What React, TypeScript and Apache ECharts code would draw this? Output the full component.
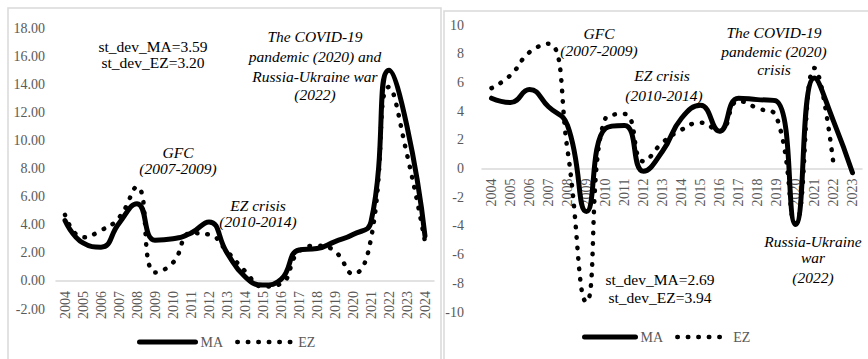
import React, { useEffect, useRef } from 'react';
import * as echarts from 'echarts';

// Left panel (2004-2024)
const yearsLeft = ['2004','2005','2006','2007','2008','2009','2010','2011','2012','2013','2014','2015','2016','2017','2018','2019','2020','2021','2022','2023','2024'];
const maLeft = [4.3, 2.7, 2.4, 4.1, 5.5, 2.9, 3.0, 3.4, 4.2, 2.0, 0.3, -0.3, 0.1, 2.2, 2.3, 2.8, 3.3, 4.2, 15.0, 11.0, 3.2];
const ezLeft = [4.7, 3.1, 3.6, 4.5, 6.7, 0.6, 1.3, 3.4, 3.3, 2.1, 0.7, -0.4, -0.2, 2.1, 2.5, 2.1, 0.5, 3.0, 13.8, 9.0, 2.8];
const yTicksLeft = { min: -2, max: 18, interval: 2 };

// Right panel (2004-2023)
const yearsRight = ['2004','2005','2006','2007','2008','2009','2010','2011','2012','2013','2014','2015','2016','2017','2018','2019','2020','2021','2022','2023'];
const maRight = [4.9, 4.6, 5.5, 4.3, 3.0, -3.0, 2.8, 3.0, -0.2, 1.2, 3.5, 4.4, 2.6, 4.9, 4.8, 4.7, -3.9, 6.3, 3.3, -0.3];
const ezRight = [5.6, 6.5, 8.1, 8.7, 1.3, -9.3, 3.5, 3.8, 0.5, 1.8, 2.7, 3.2, 2.6, 4.7, 4.2, 3.6, -3.8, 7.0, 0.3, null];
const yTicksRight = { min: -10, max: 10, interval: 2 };

const SERIF = 'Liberation Serif, DejaVu Serif, serif';
const GRAY = '#595959';
const AXIS_LINE = '#d9d9d9';

const solidStyle = { color: '#000', width: 5, cap: 'round', join: 'round' };
const dotStyle = { color: '#000', width: 4.5, type: [0.5, 10], cap: 'round', join: 'round' };
const hiddenSymbol = { opacity: 0, color: '#000', borderWidth: 0 };

function txt(text: string, x: number, y: number, italic: boolean) {
  return {
    type: 'text',
    x,
    y,
    silent: true,
    style: {
      text,
      fontFamily: SERIF,
      fontSize: 15.5,
      fontStyle: italic ? 'italic' : 'normal',
      fill: '#000',
      align: 'center',
      verticalAlign: 'middle',
    },
  };
}

const gridL = { left: 56, top: 28, width: 378, height: 281 };
const gridR = { left: 482, top: 25, width: 380, height: 287 };
// move the category axis up from the grid bottom to the zero line
const zeroOffset = (g: { height: number }, t: { min: number; max: number }) =>
  -g.height * (0 - t.min) / (t.max - t.min);

export default function App() {
  const ref = useRef<HTMLDivElement>(null);
  useEffect(() => {
    if (!ref.current) return;
    const chart = echarts.init(ref.current, undefined, { renderer: 'svg' });
    const xAxisCommon = {
      type: 'category',
      position: 'bottom',
      boundaryGap: true,
      axisLine: { onZero: false, lineStyle: { color: AXIS_LINE, width: 1.5 } },
      axisTick: { show: false },
      splitLine: { show: false },
      axisLabel: { rotate: 90, margin: 10, fontSize: 14, color: GRAY, fontFamily: SERIF, interval: 0 },
    };
    const yAxisCommon = {
      type: 'value',
      axisLine: { show: false },
      axisTick: { show: false },
      splitLine: { show: false },
    };
    const legendText = { fontSize: 14, color: GRAY, fontFamily: SERIF };
    chart.setOption({
      animation: false,
      backgroundColor: '#fff',
      color: ['#000', '#000', '#000', '#000'],
      textStyle: { fontFamily: SERIF },
      grid: [
        { ...gridL, containLabel: false },
        { ...gridR, containLabel: false },
      ],
      xAxis: [
        { ...xAxisCommon, gridIndex: 0, data: yearsLeft, offset: zeroOffset(gridL, yTicksLeft) },
        { ...xAxisCommon, gridIndex: 1, data: yearsRight, offset: zeroOffset(gridR, yTicksRight) },
      ],
      yAxis: [
        {
          ...yAxisCommon, gridIndex: 0, ...yTicksLeft,
          axisLabel: { margin: 11, fontSize: 14, color: GRAY, fontFamily: SERIF, formatter: (v: number) => v.toFixed(2) },
        },
        {
          ...yAxisCommon, gridIndex: 1, ...yTicksRight,
          axisLabel: { margin: 18, fontSize: 14, color: GRAY, fontFamily: SERIF },
        },
      ],
      legend: [
        {
          left: 137, top: 335, padding: 0, itemWidth: 56, itemHeight: 6, itemGap: 12,
          textStyle: legendText,
          data: [
            { name: 'MA', lineStyle: { width: 5 }, itemStyle: hiddenSymbol },
            { name: 'EZ', lineStyle: { width: 4.5 }, itemStyle: hiddenSymbol },
          ],
          selectedMode: false,
        },
        {
          left: 582, top: 330, padding: 0, itemWidth: 51, itemHeight: 6, itemGap: 12,
          textStyle: legendText,
          data: [
            { name: 'MA ', lineStyle: { width: 5 }, itemStyle: hiddenSymbol },
            { name: 'EZ ', lineStyle: { width: 4.5 }, itemStyle: hiddenSymbol },
          ],
          formatter: (n: string) => n.trim(),
          selectedMode: false,
        },
      ],
      series: [
        { name: 'MA', type: 'line', xAxisIndex: 0, yAxisIndex: 0, data: maLeft, smooth: 0.5, symbol: 'none', itemStyle: { color: '#000' }, lineStyle: solidStyle, z: 3 },
        { name: 'EZ', type: 'line', xAxisIndex: 0, yAxisIndex: 0, data: ezLeft, smooth: 0.5, symbol: 'none', itemStyle: { color: '#000' }, lineStyle: dotStyle, z: 2 },
        { name: 'MA ', type: 'line', xAxisIndex: 1, yAxisIndex: 1, data: maRight, smooth: 0.5, symbol: 'none', itemStyle: { color: '#000' }, lineStyle: solidStyle, z: 3 },
        { name: 'EZ ', type: 'line', xAxisIndex: 1, yAxisIndex: 1, data: ezRight, smooth: 0.5, symbol: 'none', itemStyle: { color: '#000' }, lineStyle: dotStyle, z: 2, connectNulls: false },
      ],
      graphic: [
        { type: 'rect', silent: true, z: -10, shape: { x: 8, y: 8, width: 433, height: 400 }, style: { fill: 'none', stroke: '#d9d9d9', lineWidth: 1.5 } },
        { type: 'rect', silent: true, z: -10, shape: { x: 444, y: 11, width: 440, height: 400 }, style: { fill: 'none', stroke: '#d9d9d9', lineWidth: 1.5 } },
        // left panel annotations
        txt('st_dev_MA=3.59', 153, 46.5, false),
        txt('st_dev_EZ=3.20', 153, 62.5, false),
        txt('The COVID-19', 315, 36, true),
        txt('pandemic (2020) and', 315, 56, true),
        txt('Russia-Ukraine war', 315, 76, true),
        txt('(2022)', 315, 94, true),
        txt('GFC', 178, 152, true),
        txt('(2007-2009)', 178, 168.5, true),
        txt('EZ crisis', 258, 205, true),
        txt('(2010-2014)', 258, 221.5, true),
        // right panel annotations
        txt('GFC', 599, 33, true),
        txt('(2007-2009)', 599, 50, true),
        txt('EZ crisis', 662, 75, true),
        txt('(2010-2014)', 664, 95, true),
        txt('The COVID-19', 774, 32, true),
        txt('pandemic (2020)', 774, 51, true),
        txt('crisis', 774, 69, true),
        txt('Russia-Ukraine', 813, 241, true),
        txt('war', 813, 257, true),
        txt('(2022)', 813, 277, true),
        txt('st_dev_MA=2.69', 660, 279, false),
        txt('st_dev_EZ=3.94', 660, 297, false),
      ],
    });
    return () => chart.dispose();
  }, []);
  return <div ref={ref} style={{ position: 'fixed', left: 0, top: 0, width: 868, height: 359 }} />;
}
